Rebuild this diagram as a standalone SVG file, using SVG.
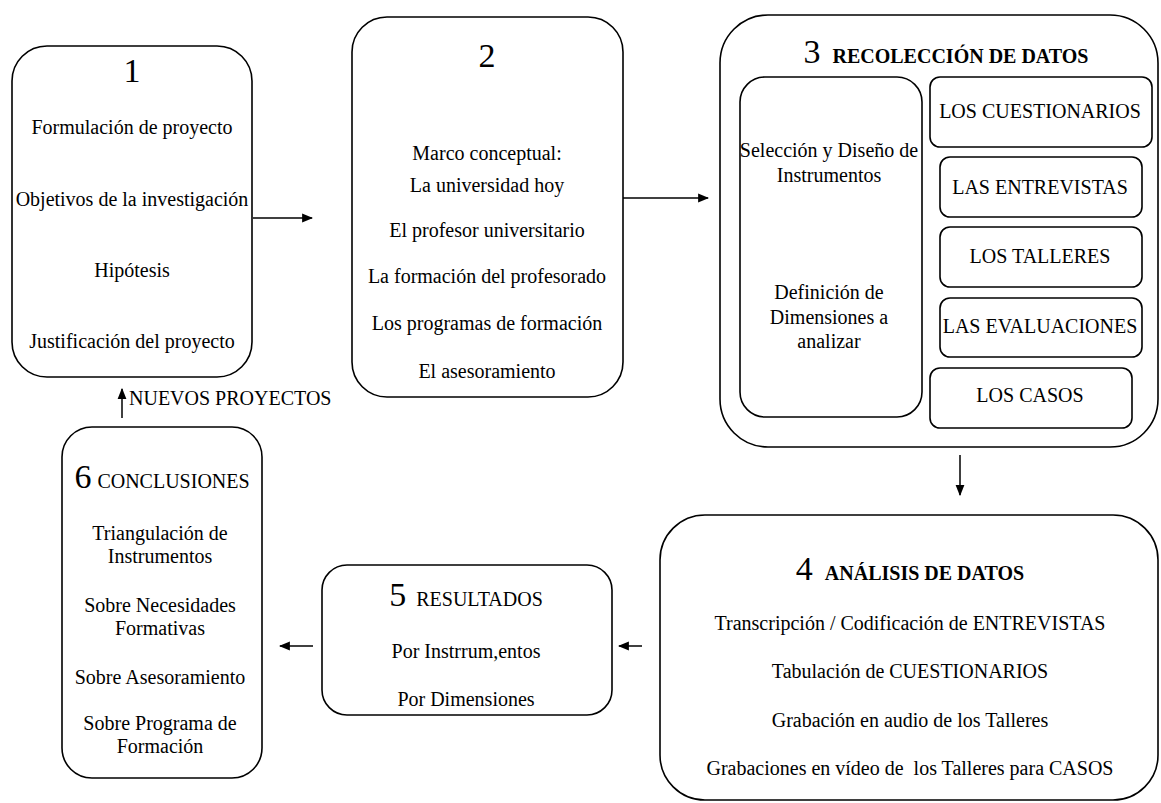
<svg xmlns="http://www.w3.org/2000/svg" width="1161" height="803" viewBox="0 0 1161 803">
<defs>
<style>
.box{fill:#fff;stroke:#000;stroke-width:1.6}
.t{font-family:"Liberation Serif","Times New Roman",serif;font-size:20px;fill:#000;text-anchor:middle}
.ts{font-family:"Liberation Serif","Times New Roman",serif;font-size:20px;fill:#000;text-anchor:start}
.num{font-family:"Liberation Serif","Times New Roman",serif;font-size:34px;fill:#000}
.hd{font-family:"Liberation Serif","Times New Roman",serif;font-size:20px;fill:#000}
.b{font-weight:bold}
.con{stroke:#000;stroke-width:1.5;fill:none}
</style>
<marker id="ah" viewBox="0 0 10 10" refX="9" refY="5" markerWidth="11" markerHeight="11" markerUnits="userSpaceOnUse" orient="auto">
<path d="M0,1 L10,5 L0,9 Z" fill="#000"/>
</marker>
</defs>
<rect width="1161" height="803" fill="#fff"/>

<g id="node1">
<rect class="box" x="12" y="46" width="240" height="331" rx="35"/>
<text class="num" x="132" y="82" text-anchor="middle">1</text>
<text class="t" x="132" y="134">Formulación de proyecto</text>
<text class="t" x="132" y="206">Objetivos de la investigación</text>
<text class="t" x="132" y="277">Hipótesis</text>
<text class="t" x="132" y="348">Justificación del proyecto</text>
</g>

<g id="node2">
<rect class="box" x="352" y="17" width="271" height="380" rx="35"/>
<text class="num" x="487" y="67" text-anchor="middle">2</text>
<text class="t" x="487" y="160">Marco conceptual:</text>
<text class="t" x="487" y="192">La universidad hoy</text>
<text class="t" x="487" y="237">El profesor universitario</text>
<text class="t" x="487" y="283">La formación del profesorado</text>
<text class="t" x="487" y="330">Los programas de formación</text>
<text class="t" x="487" y="378">El asesoramiento</text>
</g>

<g id="node3">
<rect class="box" x="720" y="15" width="438" height="432" rx="48"/>
<text x="946" y="63" text-anchor="middle"><tspan class="num">3</tspan><tspan class="hd b" dx="12">RECOLECCIÓN DE DATOS</tspan></text>
<rect class="box" x="740" y="77" width="182" height="340" rx="25"/>
<text class="t" x="829" y="157">Selección y Diseño de</text>
<text class="t" x="829" y="182">Instrumentos</text>
<text class="t" x="829" y="299">Definición de</text>
<text class="t" x="829" y="324">Dimensiones a</text>
<text class="t" x="829" y="348">analizar</text>
</g>

<g id="node3a">
<rect class="box" x="930" y="77" width="222" height="70" rx="10"/>
<text class="t" x="1040" y="118">LOS CUESTIONARIOS</text>
</g>
<g id="node3b">
<rect class="box" x="940" y="157" width="202" height="60" rx="10"/>
<text class="t" x="1040" y="194">LAS ENTREVISTAS</text>
</g>
<g id="node3c">
<rect class="box" x="940" y="227" width="202" height="60" rx="10"/>
<text class="t" x="1040" y="263">LOS TALLERES</text>
</g>
<g id="node3d">
<rect class="box" x="940" y="298" width="202" height="59" rx="10"/>
<text class="t" x="1040" y="333">LAS EVALUACIONES</text>
</g>
<g id="node3e">
<rect class="box" x="930" y="368" width="202" height="60" rx="10"/>
<text class="t" x="1030" y="402">LOS CASOS</text>
</g>

<g id="node4">
<rect class="box" x="660" y="515" width="498" height="285" rx="45"/>
<text x="910" y="580" text-anchor="middle"><tspan class="num">4</tspan><tspan class="hd b" dx="12">ANÁLISIS DE DATOS</tspan></text>
<text class="t" x="910" y="630">Transcripción / Codificación de ENTREVISTAS</text>
<text class="t" x="910" y="678">Tabulación de CUESTIONARIOS</text>
<text class="t" x="910" y="727">Grabación en audio de los Talleres</text>
<text class="t" x="910" y="775" xml:space="preserve">Grabaciones en vídeo de  los Talleres para CASOS</text>
</g>

<g id="node5">
<rect class="box" x="322" y="565" width="290" height="150" rx="25"/>
<text x="466" y="606" text-anchor="middle"><tspan class="num">5</tspan><tspan class="hd" dx="10">RESULTADOS</tspan></text>
<text class="t" x="466" y="658">Por Instrrum,entos</text>
<text class="t" x="466" y="706">Por Dimensiones</text>
</g>

<g id="node6">
<rect class="box" x="62" y="427" width="200" height="351" rx="30"/>
<text x="162" y="488" text-anchor="middle"><tspan class="num">6</tspan><tspan class="hd" dx="6">CONCLUSIONES</tspan></text>
<text class="t" x="160" y="540">Triangulación de</text>
<text class="t" x="160" y="563">Instrumentos</text>
<text class="t" x="160" y="612">Sobre Necesidades</text>
<text class="t" x="160" y="635">Formativas</text>
<text class="t" x="160" y="684">Sobre Asesoramiento</text>
<text class="t" x="160" y="730">Sobre Programa de</text>
<text class="t" x="160" y="753">Formación</text>
</g>

<g id="connectors">
<line class="con" x1="253" y1="218" x2="312" y2="218" marker-end="url(#ah)"/>
<line class="con" x1="623" y1="198" x2="708" y2="198" marker-end="url(#ah)"/>
<line class="con" x1="960" y1="455" x2="960" y2="495" marker-end="url(#ah)"/>
<line class="con" x1="642" y1="646" x2="619" y2="646" marker-end="url(#ah)"/>
<line class="con" x1="313" y1="646" x2="280" y2="646" marker-end="url(#ah)"/>
<line class="con" x1="122" y1="418" x2="122" y2="389" marker-end="url(#ah)"/>
<text class="ts" x="129" y="405">NUEVOS PROYECTOS</text>
</g>
</svg>
